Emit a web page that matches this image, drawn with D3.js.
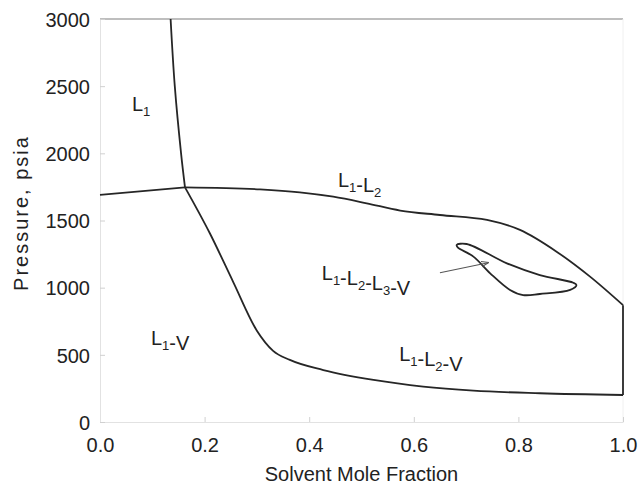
<!DOCTYPE html>
<html>
<head>
<meta charset="utf-8">
<script src="https://cdn.jsdelivr.net/npm/d3@7"></script>
<style>
  body { margin: 0; background: #fff; }
  svg { font-family: "Liberation Sans", Arial, Helvetica, sans-serif; }
</style>
</head>
<body>
<svg width="639" height="485"></svg>
<script>
// phase boundaries: [solvent mole fraction, pressure psia]
const steepBranch = [[0.135, 3000], [0.143, 2500], [0.155, 2000], [0.1625, 1747]];
const leftBranch = [[0, 1690], [0.1625, 1747]];
const upperL1L2 = [[0.1625, 1747], [0.306, 1732], [0.382, 1710], [0.446, 1677],
  [0.51, 1628], [0.574, 1574], [0.65, 1541], [0.74, 1504], [0.803, 1430],
  [0.873, 1268], [0.937, 1082], [1.0, 870]];
const lowerL1V = [[0.1625, 1747], [0.21, 1405], [0.255, 1040], [0.30, 680], [0.331, 530],
  [0.363, 462], [0.427, 387], [0.523, 313], [0.618, 263], [0.714, 233],
  [0.841, 214], [1.0, 201]];
const rightEdge = [[1.0, 870], [1.0, 201]];
const threePhaseLoop = [[0.682, 1318], [0.701, 1325], [0.778, 1181], [0.841, 1094], [0.905, 1037],
  [0.911, 1020], [0.899, 983], [0.841, 953], [0.809, 945], [0.784, 983],
  [0.746, 1107], [0.714, 1231], [0.684, 1300]];
const arrowLine = [[0.65, 1111], [0.742, 1186]];

const xTicks = [0, 0.2, 0.4, 0.6, 0.8, 1.0];
const yTicks = [0, 500, 1000, 1500, 2000, 2500, 3000];

// region labels: main text parts and subscripts
const regionLabels = [
  { x: 0.061, y: 2315, parts: [["L", "1"]] },
  { x: 0.455, y: 1752, parts: [["L", "1"], ["-L", "2"]] },
  { x: 0.424, y: 1057, parts: [["L", "1"], ["-L", "2"], ["-L", "3"], ["-V", ""]] },
  { x: 0.0975, y: 573, parts: [["L", "1"], ["-V", ""]] },
  { x: 0.572, y: 456, parts: [["L", "1"], ["-L", "2"], ["-V", ""]] }
];

const svg = d3.select("svg");
const margin = { top: 19, right: 16, bottom: 63, left: 100 };
const width = +svg.attr("width") - margin.left - margin.right;
const height = +svg.attr("height") - margin.top - margin.bottom;

const g = svg.append("g").attr("transform", `translate(${margin.left},${margin.top})`);

const x = d3.scaleLinear().domain([0, 1]).range([0, width]);
const y = d3.scaleLinear().domain([0, 3000]).range([height, 0]);

// frame
g.append("line").attr("x1", 0).attr("x2", width).attr("y1", 0).attr("y2", 0)
  .attr("stroke", "#a8a8a8").attr("stroke-width", 1.5);
g.append("line").attr("x1", width).attr("x2", width).attr("y1", 0).attr("y2", height)
  .attr("stroke", "#f0f0f0");

// axes, ticks pointing inward
const xAxis = g.append("g").attr("transform", `translate(0,${height})`)
  .call(d3.axisBottom(x).tickValues(xTicks).tickFormat(d3.format(".1f")).tickSizeInner(-5).tickSizeOuter(0).tickPadding(16));
const yAxis = g.append("g")
  .call(d3.axisLeft(y).tickValues(yTicks).tickFormat(d3.format("d")).tickSizeInner(-5).tickSizeOuter(0).tickPadding(10));

[xAxis, yAxis].forEach(a => {
  a.select(".domain").attr("stroke", "#e2e2e2");
  a.selectAll(".tick line").attr("stroke", "#d0d0d0");
  a.selectAll(".tick text").attr("fill", "#222").style("font-size", "20px")
    .style("font-family", "Liberation Sans, Arial, sans-serif");
});
xAxis.selectAll(".tick text").attr("dy", "0.71em");
yAxis.selectAll(".tick text").attr("dy", "0.36em");

// axis titles
svg.append("text")
  .attr("x", margin.left + width / 2).attr("y", 481)
  .attr("text-anchor", "middle").attr("fill", "#222")
  .style("font-size", "20px")
  .text("Solvent Mole Fraction");
svg.append("text")
  .attr("transform", `translate(28,213) rotate(-90)`)
  .attr("text-anchor", "middle").attr("fill", "#222")
  .style("font-size", "20px").style("letter-spacing", "2px")
  .text("Pressure, psia");

// phase boundaries
const smooth = d3.line().x(d => x(d[0])).y(d => y(d[1])).curve(d3.curveMonotoneX);
const straight = d3.line().x(d => x(d[0])).y(d => y(d[1]));

const curves = g.append("g").attr("fill", "none").attr("stroke", "#262626")
  .attr("stroke-width", 1.8).attr("stroke-linejoin", "round");
curves.append("path").attr("d", d3.line().x(d => x(d[0])).y(d => y(d[1])).curve(d3.curveCatmullRom)(steepBranch));
curves.append("path").attr("d", straight(leftBranch));
curves.append("path").attr("d", smooth(upperL1L2));
curves.append("path").attr("d", smooth(lowerL1V));
curves.append("path").attr("d", straight(rightEdge));
curves.append("path")
  .attr("d", d3.line().x(d => x(d[0])).y(d => y(d[1])).curve(d3.curveCatmullRomClosed.alpha(0.5))(threePhaseLoop));

// arrow pointing at the loop
svg.append("defs").append("marker")
  .attr("id", "head").attr("viewBox", "0 0 10 10")
  .attr("refX", 9).attr("refY", 5)
  .attr("markerWidth", 7).attr("markerHeight", 7)
  .attr("orient", "auto")
  .append("path").attr("d", "M0,1.5 L10,5 L0,8.5").attr("fill", "none")
  .attr("stroke", "#555").attr("stroke-width", 1.4);
g.append("path").attr("d", straight(arrowLine))
  .attr("stroke", "#555").attr("stroke-width", 1.1).attr("fill", "none")
  .attr("marker-end", "url(#head)");

// region labels
regionLabels.forEach(lab => {
  const t = g.append("text")
    .attr("x", x(lab.x)).attr("y", y(lab.y))
    .attr("fill", "#222").style("font-size", "20px");
  lab.parts.forEach(([main, sub]) => {
    t.append("tspan").text(main).attr("dy", 0);
    if (sub) {
      t.append("tspan").text(sub).style("font-size", "13px").attr("dy", 5);
      // back to baseline for the next part
      t.append("tspan").text("").attr("dy", -5);
    }
  });
});
</script>
</body>
</html>
